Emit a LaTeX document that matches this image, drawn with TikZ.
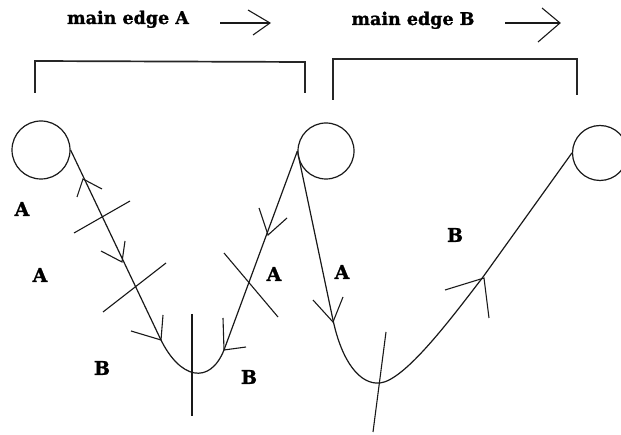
\documentclass[tikz,border=0pt]{standalone}
\usepackage{fontspec}
\setmainfont{DejaVu Serif}[BoldFeatures={FakeBold=1.2}]
\begin{document}
\begin{tikzpicture}[x=1pt,y=-1pt,
  stroke/.style={line width=1.2pt, black!90},
  barb/.style={line width=1.1pt, black!90},
  bracketline/.style={line width=1.7pt, black!85},
  lbl/.style={font=\fontsize{19}{22}\selectfont\bfseries, inner sep=0pt},
  ttl/.style={font=\fontsize{17.5}{20}\selectfont\bfseries, inner sep=0pt, anchor=base},
  ring/.style={circle, draw, line width=1.2pt, black!90, inner sep=0pt}]
\clip (0,0) rectangle (621,435);
\fill[white] (0,0) rectangle (621,435);

% titles with arrows
\node[ttl] (tA) at (128,24) {main edge A};
\node[ttl] (tB) at (413,25) {main edge B};
\coordinate (aA0) at (220,23); \coordinate (aAt) at (270,23);
\coordinate (aAu) at (248,10); \coordinate (aAl) at (253,35);
\draw[stroke] (aA0) -- (aAt);
\draw[barb] (aAu) -- (aAt) -- (aAl);
\coordinate (aB0) at (505,23); \coordinate (aBt) at (560,23);
\coordinate (aBu) at (542,8); \coordinate (aBl) at (538,42);
\draw[stroke] (aB0) -- (aBt);
\draw[barb] (aBu) -- (aBt) -- (aBl);

% brackets
\coordinate (brA1) at (35,93); \coordinate (brA2) at (35,61);
\coordinate (brA3) at (305,62); \coordinate (brA4) at (305,93);
\draw[bracketline] (brA1) -- (brA2) -- (brA3) -- (brA4);
\coordinate (brB1) at (333,100); \coordinate (brB2) at (333,59);
\coordinate (brB3) at (577,59); \coordinate (brB4) at (577,95);
\draw[bracketline] (brB1) -- (brB2) -- (brB3) -- (brB4);

% circles
\node[ring, minimum size=58pt] (c1) at (41,150) {};
\node[ring, minimum size=56pt] (c2) at (326,151) {};
\node[ring, minimum size=55pt] (c3) at (600,153) {};

% left V
\coordinate (vA1) at (160,338);
\coordinate (vA2) at (224,350);
\draw[stroke] (c1.east) -- (vA1) .. controls (180,380) and (210,385) .. (vA2) -- (c2.west);

% right V
\coordinate (vB1) at (333,320);
\coordinate (vB2) at (380,383);
\coordinate (vB3) at (483,277);
\draw[stroke] (c2.west) -- (vB1) .. controls (342,362) and (360,385) .. (vB2)
  .. controls (405,380) and (450,320) .. (vB3) -- (c3.west);

% arrowheads (open barbs)
\draw[barb] (77,197) -- (83,179) -- (102,189);
\draw[barb] (101,251) -- (122,262) -- (125,241);
\draw[barb] (131,331) -- (161,340) -- (163,315);
\draw[barb] (223,318) -- (224,350) -- (246,347);
\draw[barb] (259,208) -- (268,235) -- (287,218);
\draw[barb] (313,300) -- (333,322) -- (343,297);
\draw[barb] (445,290) -- (484,278) -- (489,318);

% cross ticks
\draw[barb] (74,233) -- (130,201);
\draw[barb] (103,312) -- (166,263);
\draw[barb] (192,314) -- (192,416);
\draw[barb] (224,253) -- (278,317);
\draw[barb] (386,332) -- (373,432);

% labels
\node[lbl] (lA1) at (22,209) {A};
\node[lbl] (lA2) at (40,275) {A};
\node[lbl] (lB1) at (102,368) {B};
\node[lbl] (lB2) at (249,377) {B};
\node[lbl] (lA3) at (274,274) {A};
\node[lbl] (lA4) at (342,272) {A};
\node[lbl] (lB3) at (455,235) {B};
\end{tikzpicture}
\end{document}
